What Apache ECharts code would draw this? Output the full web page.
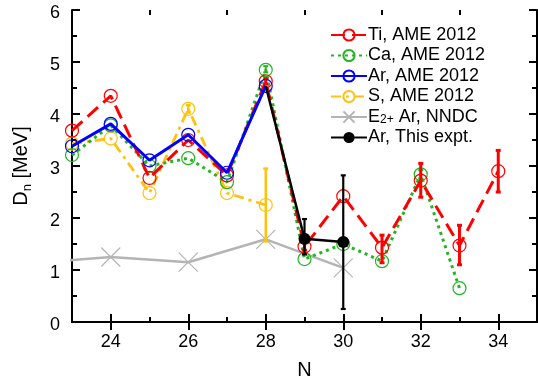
<!DOCTYPE html>
<html><head><meta charset="utf-8">
<script src="https://cdn.jsdelivr.net/npm/echarts@6/dist/echarts.min.js"></script>
<style>html,body{margin:0;padding:0;background:#fff}#c{width:538px;height:384px}</style>
</head><body><div id="c"></div>
<script>
// ---- data ----
var tiN = [23,24,25,26,27,28,29,30,31,32,33,34];
var tiD = [3.68,4.35,2.77,3.50,2.82,4.63,1.45,2.42,1.43,2.72,1.47,2.90];
var caN = [23,24,25,26,27,28,29,30,31,32,33];
var caD = [3.21,3.78,3.00,3.15,2.69,4.85,1.21,1.50,1.17,2.84,0.65];
var arN = [23,24,25,26,27,28];
var arD = [3.38,3.81,3.11,3.60,2.87,4.54];
var sN = [23,24,25,26,27,28];
var sD = [3.43,3.53,2.48,4.10,2.48,2.25];
var e2N = [22,24,26,28,30];
var e2D = [1.13,1.25,1.15,1.59,1.04];
var expN = [28,29,30];
var expD = [4.54,1.60,1.54];
// error bars: N, low, high
var tiErrN = [28,29,31,32,33,34];
var tiErrLo = [4.58,1.38,1.14,2.40,1.10,2.50];
var tiErrHi = [4.68,1.52,1.67,3.05,1.86,3.30];
var caErrN = [28,32];
var caErrLo = [4.80,2.76];
var caErrHi = [4.92,2.92];
var sErrN = [26,28];
var sErrLo = [4.03,1.55];
var sErrHi = [4.17,2.95];
var expErrN = [29,30];
var expErrLo = [1.30,0.25];
var expErrHi = [1.98,2.82];
var xTickMajor = [24,26,28,30,32,34];
var xTickMinor = [25,27,29,31,33];
var legendNames = ['Ti, AME 2012','Ca, AME 2012','Ar, AME 2012','S, AME 2012','E2+ Ar, NNDC','Ar, This expt.'];

function zip(a,b){return a.map(function(v,i){return [v,b[i]];});}
function zip3(a,b,c){return a.map(function(v,i){return [v,b[i],c[i]];});}

var FONT = 'Liberation Sans, Arial, Helvetica, sans-serif';
var RED='#ff0000', GREEN='#22b522', BLUE='#0000ff', GOLD='#ffc20e', GRAY='#b4b4b4', BLACK='#000000';

function errSeries(color, w, N, lo, hi, z){
  return {
    type:'custom', xAxisIndex:0, yAxisIndex:0, z:z, silent:true,
    data: zip3(N,lo,hi),
    encode:{x:0,y:[1,2]},
    renderItem:function(params, api){
      var x=api.value(0), p1=api.coord([x,api.value(1)]), p2=api.coord([x,api.value(2)]);
      var c=2.5, st={stroke:color,lineWidth:w};
      return {type:'group',children:[
        {type:'line',shape:{x1:p1[0],y1:p1[1],x2:p2[0],y2:p2[1]},style:st},
        {type:'line',shape:{x1:p1[0]-c,y1:p1[1],x2:p1[0]+c,y2:p1[1]},style:st},
        {type:'line',shape:{x1:p2[0]-c,y1:p2[1],x2:p2[0]+c,y2:p2[1]},style:st}
      ]};
    }
  };
}

function xAx(pos, ticks, len, withLabel, showLine){
  return {
    type:'value', position:pos, min:23, max:35, interval:1, gridIndex:0,
    axisLine:{show:showLine, lineStyle:{color:BLACK,width:2}},
    axisTick:{show:true, inside:true, length:len, customValues:ticks, lineStyle:{color:BLACK,width:2}},
    axisLabel:withLabel ? {show:true, customValues:xTickMajor, fontSize:18, color:BLACK, fontFamily:FONT, margin:11} : {show:false},
    splitLine:{show:false},
    name: withLabel ? 'N' : '', nameLocation:'middle', nameGap:38,
    nameTextStyle:{fontSize:20, color:BLACK, fontFamily:FONT}
  };
}
function yAx(pos, withLabel){
  return {
    type:'value', position:pos, min:0, max:6, interval:1, gridIndex:0,
    axisLine:{show:true, lineStyle:{color:BLACK,width:2}},
    axisTick:{show:true, inside:true, length:8, lineStyle:{color:BLACK,width:2}},
    minorTick:{show:true, splitNumber:2, length:5, lineStyle:{color:BLACK,width:2}},
    axisLabel:withLabel ? {show:true, fontSize:18, color:BLACK, fontFamily:FONT, margin:12, verticalAlign:'top', lineHeight:6} : {show:false},
    splitLine:{show:false},
    name: withLabel ? '{a|D}{b|n}{a| [MeV]}' : '', nameLocation:'middle', nameGap:38, nameRotate:90,
    nameTextStyle:{fontSize:20, color:BLACK, fontFamily:FONT,
      rich:{a:{fontSize:20,fontFamily:FONT,color:BLACK,lineHeight:26},
            b:{fontSize:13,fontFamily:FONT,color:BLACK,lineHeight:13,verticalAlign:'bottom'}}}
  };
}

var circ = function(color,z,name,N,D,lineType,width){
  return {
    name:name, type:'line', z:z, xAxisIndex:0, yAxisIndex:0,
    data: zip(N,D), symbol:'circle', symbolSize:13,
    itemStyle:{color:'rgba(255,255,255,0)', borderColor:color, borderWidth:1.2},
    lineStyle:{color:color, width:width, type:lineType},
    emphasis:{disabled:true}, animation:false
  };
};

var option = {
  animation:false,
  grid:{left:72, right:1, top:10, bottom:62, outerBoundsMode:'none'},
  xAxis:[ xAx('bottom', xTickMajor, 8, true, true), xAx('top', xTickMajor, 8, false, true),
          xAx('bottom', xTickMinor, 5, false, false), xAx('top', xTickMinor, 5, false, false) ],
  yAxis:[ yAx('left', true), yAx('right', false) ],
  legend:{
    data: legendNames, orient:'vertical', left:325, top:21, itemWidth:36, itemHeight:14, itemGap:2.5,
    textStyle:{fontSize:18, color:BLACK, fontFamily:FONT, lineHeight:18, padding:[0,0,0,-4],
      rich:{e:{fontSize:18,fontFamily:FONT,color:BLACK,lineHeight:18},
            s:{fontSize:12,fontFamily:FONT,color:BLACK,verticalAlign:'bottom',lineHeight:12}}},
    formatter:function(n){ return n==='E2+ Ar, NNDC' ? '{e|E}{s|2+}{e| Ar, NNDC}' : n; },
    selectedMode:false
  },
  series:[
    { name:'E2+ Ar, NNDC', type:'line', z:2, data:zip(e2N,e2D),
      symbol:'path://M0,0L10,10M10,0L0,10', symbolSize:19,
      itemStyle:{color:'none', borderColor:GRAY, borderWidth:1.2},
      lineStyle:{color:GRAY, width:2.5}, emphasis:{disabled:true} },
    circ(GOLD,3,'S, AME 2012',sN,sD,[10,5,3,5],2.8),
    errSeries(GOLD,2.5,sErrN,sErrLo,sErrHi,3),
    circ(GREEN,4,'Ca, AME 2012',caN,caD,[3,4],3),
    errSeries(GREEN,2,caErrN,caErrLo,caErrHi,4),
    circ(RED,5,'Ti, AME 2012',tiN,tiD,[14,7],3),
    errSeries(RED,3,tiErrN,tiErrLo,tiErrHi,5),
    circ(BLUE,6,'Ar, AME 2012',arN,arD,'solid',3),
    { name:'Ar, This expt.', type:'line', z:8, data:zip(expN,expD).map(function(p,i){ return i===0 ? {value:p, symbol:'none'} : p; }),
      symbol:'circle', symbolSize:12, itemStyle:{color:BLACK},
      lineStyle:{color:BLACK, width:2.5}, emphasis:{disabled:true} },
    errSeries(BLACK,2.2,expErrN,expErrLo,expErrHi,8)
  ]
};
var chart = echarts.init(document.getElementById('c'), null, {renderer:'canvas'});
chart.setOption(option);
</script></body></html>
